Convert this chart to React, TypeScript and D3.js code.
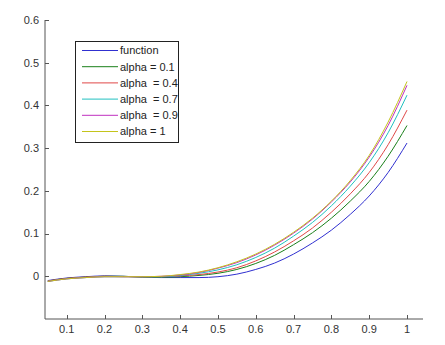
import React from 'react';
import * as d3 from 'd3';

// sample positions along x
const xs = [0.05, 0.1, 0.15, 0.2, 0.25, 0.3, 0.35, 0.4, 0.45, 0.5, 0.55, 0.6, 0.65, 0.7, 0.75, 0.8, 0.85, 0.9, 0.95, 1];

// values
const fn = [-0.010, -0.004, -0.001, 0.001, 0.000, -0.002, -0.003, -0.003, -0.003, -0.001, 0.005, 0.016, 0.031, 0.052, 0.078, 0.108, 0.145, 0.188, 0.243, 0.312];
const alpha01 = [-0.011, -0.005, -0.002, 0.000, 0.000, -0.002, -0.002, -0.001, 0.002, 0.007, 0.016, 0.030, 0.049, 0.074, 0.102, 0.136, 0.176, 0.222, 0.281, 0.353];
const alpha04 = [-0.011, -0.005, -0.002, 0.000, -0.001, -0.001, -0.001, 0.001, 0.004, 0.010, 0.020, 0.036, 0.057, 0.083, 0.113, 0.150, 0.193, 0.243, 0.308, 0.389];
const alpha07 = [-0.012, -0.006, -0.003, -0.001, -0.001, -0.001, -0.001, 0.002, 0.007, 0.015, 0.027, 0.044, 0.066, 0.094, 0.126, 0.165, 0.211, 0.266, 0.336, 0.424];
const alpha09 = [-0.012, -0.006, -0.003, -0.001, -0.001, -0.001, 0.000, 0.003, 0.009, 0.019, 0.032, 0.050, 0.073, 0.101, 0.134, 0.174, 0.221, 0.279, 0.353, 0.447];
const alpha1 = [-0.012, -0.006, -0.003, -0.001, -0.001, -0.001, 0.000, 0.004, 0.010, 0.020, 0.034, 0.052, 0.075, 0.103, 0.136, 0.176, 0.224, 0.283, 0.361, 0.456];

const labels = ['function', 'alpha = 0.1', 'alpha  = 0.4', 'alpha  = 0.7', 'alpha  = 0.9', 'alpha = 1'];
const colors = ['#3030d0', '#1a801a', '#e04848', '#20c0c0', '#c030c0', '#c4c41c'];

const xTicks = [0.1, 0.2, 0.3, 0.4, 0.5, 0.6, 0.7, 0.8, 0.9, 1];
const yTicks = [0, 0.1, 0.2, 0.3, 0.4, 0.5, 0.6];

const App = () => {
  const width = 445;
  const height = 345;
  const font = '"Liberation Sans", Arial, sans-serif';
  const axisColor = '#555';
  const textColor = '#333';

  const x = d3.scaleLinear().domain([0.0426, 1.0423]).range([45, 423]);
  const y = d3.scaleLinear().domain([-0.1, 0.6]).range([319, 20]);

  const series = [fn, alpha01, alpha04, alpha07, alpha09, alpha1];
  const line = d3.line<number>()
    .x((d, i) => x(xs[i]))
    .y(d => y(d))
    .curve(d3.curveMonotoneX); // smooth like the dense original sampling

  // legend box
  const lg = { x: 75, y: 41, w: 103, h: 101 };
  const rowY = (i: number) => lg.y + 9.5 + i * 16.2;

  return (
    <svg width={width} height={height} style={{ position: 'absolute', left: 0, top: 0, background: '#fff' }}>
      <rect width={width} height={height} fill="#fff" />

      {series.map((s, k) => (
        <path key={k} d={line(s) || ''} fill="none" stroke={colors[k]} strokeWidth={1} />
      ))}

      {/* axes */}
      <line x1={x.range()[0]} x2={x.range()[0]} y1={y.range()[1]} y2={y.range()[0]} stroke={axisColor} />
      <line x1={x.range()[0]} x2={x.range()[1]} y1={y.range()[0]} y2={y.range()[0]} stroke={axisColor} />

      {yTicks.map(t => (
        <g key={t}>
          <line x1={45} x2={49} y1={Math.round(y(t)) + 0.5} y2={Math.round(y(t)) + 0.5} stroke={axisColor} />
          <text x={39} y={y(t)} dy="0.35em" textAnchor="end" fontFamily={font} fontSize={11} fill={textColor}>
            {t}
          </text>
        </g>
      ))}

      {xTicks.map(t => (
        <g key={t}>
          <line x1={Math.round(x(t)) + 0.5} x2={Math.round(x(t)) + 0.5} y1={y.range()[0]} y2={y.range()[0] - 4} stroke={axisColor} />
          <text x={x(t)} y={333} textAnchor="middle" fontFamily={font} fontSize={11} fill={textColor}>
            {t}
          </text>
        </g>
      ))}

      {/* legend */}
      <rect x={lg.x + 0.5} y={lg.y + 0.5} width={lg.w} height={lg.h} fill="#fff" stroke="#222" />
      {labels.map((l, i) => (
        <g key={l}>
          <line x1={82} x2={118} y1={rowY(i)} y2={rowY(i)} stroke={colors[i]} />
          <text x={120} y={rowY(i)} dy="0.35em" fontFamily={font} fontSize={11} fill="#222" style={{ whiteSpace: 'pre' }}>
            {l}
          </text>
        </g>
      ))}
    </svg>
  );
};

export default App;
